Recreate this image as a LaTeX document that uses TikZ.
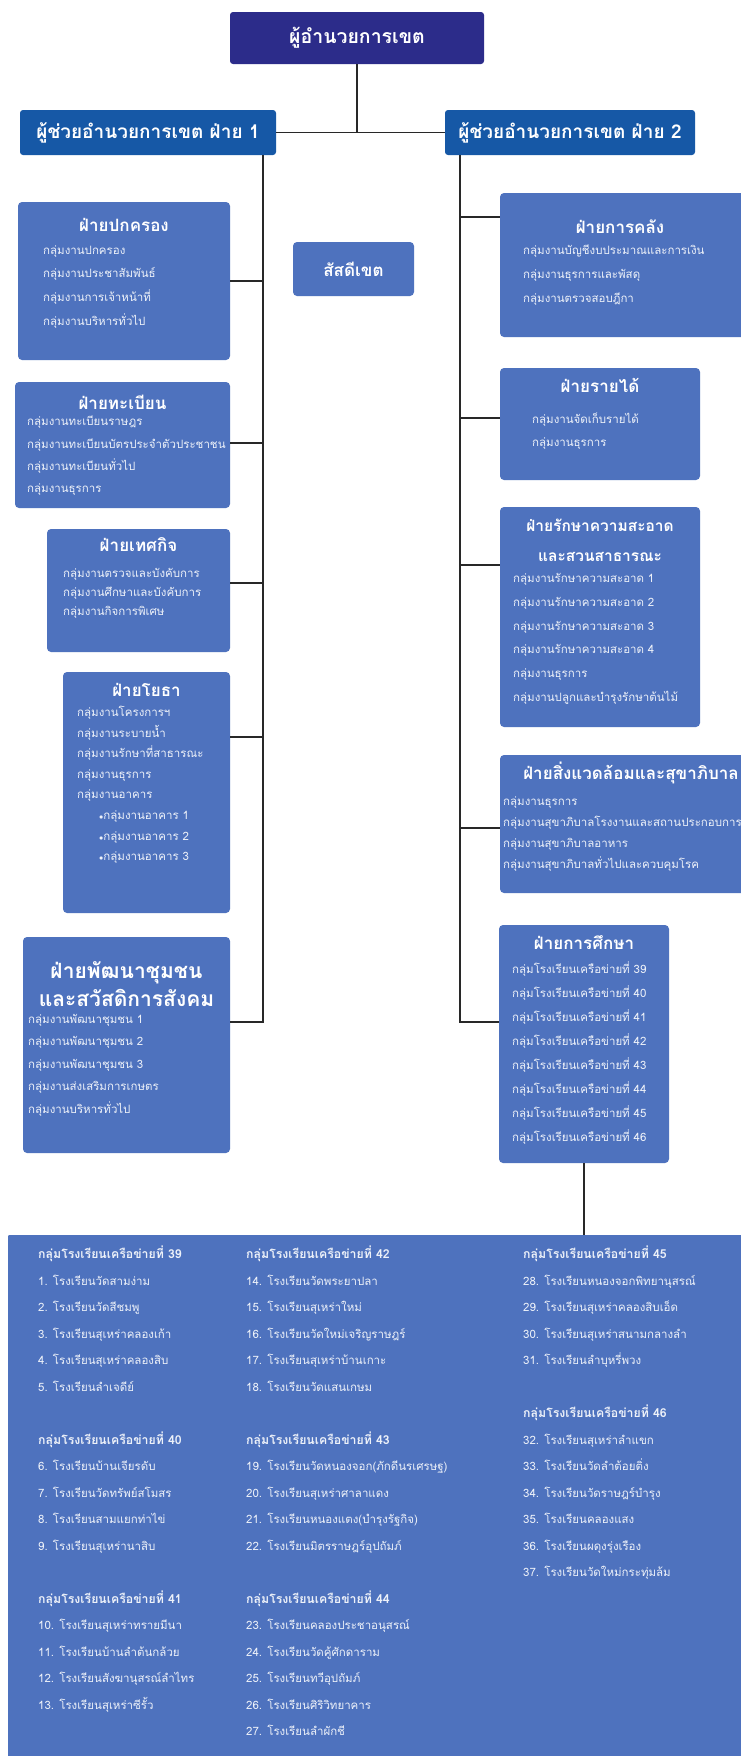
\documentclass[tikz,border=0pt]{standalone}
\usepackage{fontspec}
\setmainfont{Loma}[Script=Thai]
\usetikzlibrary{positioning}

\definecolor{dirblue}{RGB}{44,44,138}
\definecolor{depblue}{RGB}{22,88,166}
\definecolor{unitblue}{RGB}{78,114,190}
\definecolor{linkgray}{RGB}{40,40,40}

\newcommand\grouphead[1]{{\fontsize{12.3}{26.5}\selectfont\bfseries #1}}

\begin{document}
\begin{tikzpicture}[x=1pt, y=-1pt,
    dims/.style 2 args={minimum width=#1pt, minimum height=#2pt},
    dir_box/.style={rectangle, rounded corners=3pt, fill=dirblue, text=white, inner sep=0pt,
        font=\fontsize{19.5}{22}\selectfont\bfseries},
    dep_box/.style={rectangle, rounded corners=3pt, fill=depblue, text=white, inner sep=0pt,
        font=\fontsize{19}{22}\selectfont\bfseries},
    unit_box/.style={rectangle, rounded corners=4pt, fill=unitblue, inner sep=0pt},
    unit_title/.style={text=white, inner sep=0pt, align=center,
        font=\fontsize{17}{30}\selectfont\bfseries},
    unit_list/.style={text=white!90!unitblue, inner sep=0pt, align=left, anchor=north west,
        font=\fontsize{11.5}{#1}\selectfont},
    link/.style={line width=1.6pt, draw=linkgray}
]
\path[fill=white, use as bounding box] (0,0) rectangle (741,1756);

% Lines
\coordinate (l_end) at (263,1022);
\coordinate (r_end) at (460,1022);

% Director and deputies
\node[dir_box, dims={254}{52}] (dir) at (357,38) {ผู้อำนวยการเขต};
\node[dep_box, dims={256}{45}] (dep1) at (148,132.5) {ผู้ช่วยอำนวยการเขต ฝ่าย 1};
\node[dep_box, dims={250}{45}] (dep2) at (570,132.5) {ผู้ช่วยอำนวยการเขต ฝ่าย 2};

% Left side
\node[unit_box, dims={212}{158}] (pk) at (124,281) {};
\node[unit_title] (pk_t) at (124,225) {ฝ่ายปกครอง};
\node[unit_list=23.7] (pk_l) at (43,245)
    {กลุ่มงานปกครอง\\กลุ่มงานประชาสัมพันธ์\\กลุ่มงานการเจ้าหน้าที่\\กลุ่มงานบริหารทั่วไป};

\node[unit_box, unit_title, dims={121}{54}] (sd) at (353.5,269) {สัสดีเขต};

\node[unit_box, dims={215}{126}] (tb) at (122.5,445) {};
\node[unit_title] (tb_t) at (122.5,402) {ฝ่ายทะเบียน};
\node[unit_list=22.3] (tb_l) at (27,416)
    {กลุ่มงานทะเบียนราษฎร\\กลุ่มงานทะเบียนบัตรประจำตัวประชาชน\\กลุ่มงานทะเบียนทั่วไป\\กลุ่มงานธุรการ};

\node[unit_box, dims={183}{123}] (tk) at (138.5,590.5) {};
\node[unit_title] (tk_t) at (138.5,545) {ฝ่ายเทศกิจ};
\node[unit_list=19] (tk_l) at (63,568)
    {กลุ่มงานตรวจและบังคับการ\\กลุ่มงานศึกษาและบังคับการ\\กลุ่มงานกิจการพิเศษ};

\node[unit_box, dims={167}{241}] (yt) at (146.5,792.5) {};
\node[unit_title] (yt_t) at (146.5,690) {ฝ่ายโยธา};
\node[unit_list=20.6] (yt_l) at (77,706)
    {กลุ่มงานโครงการฯ\\กลุ่มงานระบายน้ำ\\กลุ่มงานรักษาที่สาธารณะ\\กลุ่มงานธุรการ\\กลุ่มงานอาคาร\\
     \hspace*{22pt}$\scriptstyle\bullet$กลุ่มงานอาคาร 1\\
     \hspace*{22pt}$\scriptstyle\bullet$กลุ่มงานอาคาร 2\\
     \hspace*{22pt}$\scriptstyle\bullet$กลุ่มงานอาคาร 3};

\node[unit_box, dims={207}{216}] (pc) at (126.5,1045) {};
\node[unit_title, font=\fontsize{21}{28}\selectfont\bfseries] (pc_t) at (126.5,984)
    {ฝ่ายพัฒนาชุมชน\\และสวัสดิการสังคม};
\node[unit_list=22.5] (pc_l) at (28,1014)
    {กลุ่มงานพัฒนาชุมชน 1\\กลุ่มงานพัฒนาชุมชน 2\\กลุ่มงานพัฒนาชุมชน 3\\กลุ่มงานส่งเสริมการเกษตร\\กลุ่มงานบริหารทั่วไป};

% Right side
\node[unit_box, dims={245}{144}] (kl) at (622.5,265) {};
\node[unit_title] (kl_t) at (620,227) {ฝ่ายการคลัง};
\node[unit_list=24] (kl_l) at (523,245)
    {กลุ่มงานบัญชีงบประมาณและการเงิน\\กลุ่มงานธุรการและพัสดุ\\กลุ่มงานตรวจสอบฎีกา};

\node[unit_box, dims={200}{112}] (rd) at (600,424) {};
\node[unit_title] (rd_t) at (600,385) {ฝ่ายรายได้};
\node[unit_list=23] (rd_l) at (532,413)
    {กลุ่มงานจัดเก็บรายได้\\กลุ่มงานธุรการ};

\node[unit_box, dims={200}{220}] (rs) at (600,617) {};
\node[unit_title, font=\fontsize{15.5}{30}\selectfont\bfseries] (rs_t) at (600,540)
    {ฝ่ายรักษาความสะอาด\\และสวนสาธารณะ};
\node[unit_list=23.8] (rs_l) at (513,573)
    {กลุ่มงานรักษาความสะอาด 1\\กลุ่มงานรักษาความสะอาด 2\\กลุ่มงานรักษาความสะอาด 3\\กลุ่มงานรักษาความสะอาด 4\\
     กลุ่มงานธุรการ\\กลุ่มงานปลูกและบำรุงรักษาต้นไม้};

\node[unit_box, dims={262}{138}] (sw) at (631,824) {};
\node[unit_title] (sw_t) at (631,773) {ฝ่ายสิ่งแวดล้อมและสุขาภิบาล};
\node[unit_list=21] (sw_l) at (503,796)
    {กลุ่มงานธุรการ\\กลุ่มงานสุขาภิบาลโรงงานและสถานประกอบการ\\กลุ่มงานสุขาภิบาลอาหาร\\กลุ่มงานสุขาภิบาลทั่วไปและควบคุมโรค};

\node[unit_box, dims={170}{238}] (ks) at (584,1044) {};
\node[unit_title] (ks_t) at (584,943) {ฝ่ายการศึกษา};
\node[unit_list=24] (ks_l) at (512,961)
    {กลุ่มโรงเรียนเครือข่ายที่ 39\\กลุ่มโรงเรียนเครือข่ายที่ 40\\กลุ่มโรงเรียนเครือข่ายที่ 41\\กลุ่มโรงเรียนเครือข่ายที่ 42\\
     กลุ่มโรงเรียนเครือข่ายที่ 43\\กลุ่มโรงเรียนเครือข่ายที่ 44\\กลุ่มโรงเรียนเครือข่ายที่ 45\\กลุ่มโรงเรียนเครือข่ายที่ 46};

% Schools
\node[unit_box, rounded corners=1pt, dims={752}{535}] (sc) at (384,1502.5) {};
\node[unit_list=26.5] (sc_1) at (38,1246)
    {\grouphead{กลุ่มโรงเรียนเครือข่ายที่ 39}\\1. โรงเรียนวัดสามง่าม\\2. โรงเรียนวัดสีชมพู\\3. โรงเรียนสุเหร่าคลองเก้า\\
     4. โรงเรียนสุเหร่าคลองสิบ\\5. โรงเรียนลำเจดีย์\\[26.5pt]
     \grouphead{กลุ่มโรงเรียนเครือข่ายที่ 40}\\6. โรงเรียนบ้านเจียรดับ\\7. โรงเรียนวัดทรัพย์สโมสร\\8. โรงเรียนสามแยกท่าไข่\\
     9. โรงเรียนสุเหร่านาสิบ\\[26.5pt]
     \grouphead{กลุ่มโรงเรียนเครือข่ายที่ 41}\\10. โรงเรียนสุเหร่าทรายมีนา\\11. โรงเรียนบ้านลำต้นกล้วย\\12. โรงเรียนสังฆานุสรณ์ลำไทร\\
     13. โรงเรียนสุเหร่าซีรั้ว};
\node[unit_list=26.5] (sc_2) at (246,1246)
    {\grouphead{กลุ่มโรงเรียนเครือข่ายที่ 42}\\14. โรงเรียนวัดพระยาปลา\\15. โรงเรียนสุเหร่าใหม่\\16. โรงเรียนวัดใหม่เจริญราษฎร์\\
     17. โรงเรียนสุเหร่าบ้านเกาะ\\18. โรงเรียนวัดแสนเกษม\\[26.5pt]
     \grouphead{กลุ่มโรงเรียนเครือข่ายที่ 43}\\19. โรงเรียนวัดหนองจอก(ภักดีนรเศรษฐ)\\20. โรงเรียนสุเหร่าศาลาแดง\\
     21. โรงเรียนหนองแตง(บำรุงรัฐกิจ)\\22. โรงเรียนมิตรราษฎร์อุปถัมภ์\\[26.5pt]
     \grouphead{กลุ่มโรงเรียนเครือข่ายที่ 44}\\23. โรงเรียนคลองประชาอนุสรณ์\\24. โรงเรียนวัดคู้ศักดาราม\\25. โรงเรียนทวีอุปถัมภ์\\
     26. โรงเรียนศิริวิทยาคาร\\27. โรงเรียนลำผักชี};
\node[unit_list=26.5] (sc_3) at (523,1246)
    {\grouphead{กลุ่มโรงเรียนเครือข่ายที่ 45}\\28. โรงเรียนหนองจอกพิทยานุสรณ์\\29. โรงเรียนสุเหร่าคลองสิบเอ็ด\\
     30. โรงเรียนสุเหร่าสนามกลางลำ\\31. โรงเรียนลำบุหรี่พวง\\[26.5pt]
     \grouphead{กลุ่มโรงเรียนเครือข่ายที่ 46}\\32. โรงเรียนสุเหร่าลำแขก\\33. โรงเรียนวัดลำต้อยติ่ง\\34. โรงเรียนวัดราษฎร์บำรุง\\
     35. โรงเรียนคลองแสง\\36. โรงเรียนผดุงรุ่งเรือง\\37. โรงเรียนวัดใหม่กระทุ่มล้ม};

% Connectors
\draw[link] (dir.south) -- (dir.south |- dep1);
\draw[link] (dep1.east) -- (dep2.west);
\draw[link] (dep1.south -| l_end) -- (l_end) -- (l_end -| pc.east);
\draw[link] (dep2.south -| r_end) -- (r_end) -- (r_end -| ks.west);
\foreach \u/\y in {pk/281, tb/443, tk/583, yt/737}{
    \coordinate (\u_j) at (263,\y);
    \draw[link] (\u_j) -- (\u_j -| \u.east);
}
\foreach \u/\y in {kl/217, rd/418, rs/565, sw/828}{
    \coordinate (\u_j) at (460,\y);
    \draw[link] (\u_j) -- (\u_j -| \u.west);
}
\draw[link] (ks.south) -- (ks.south |- sc.north);
\end{tikzpicture}
\end{document}
